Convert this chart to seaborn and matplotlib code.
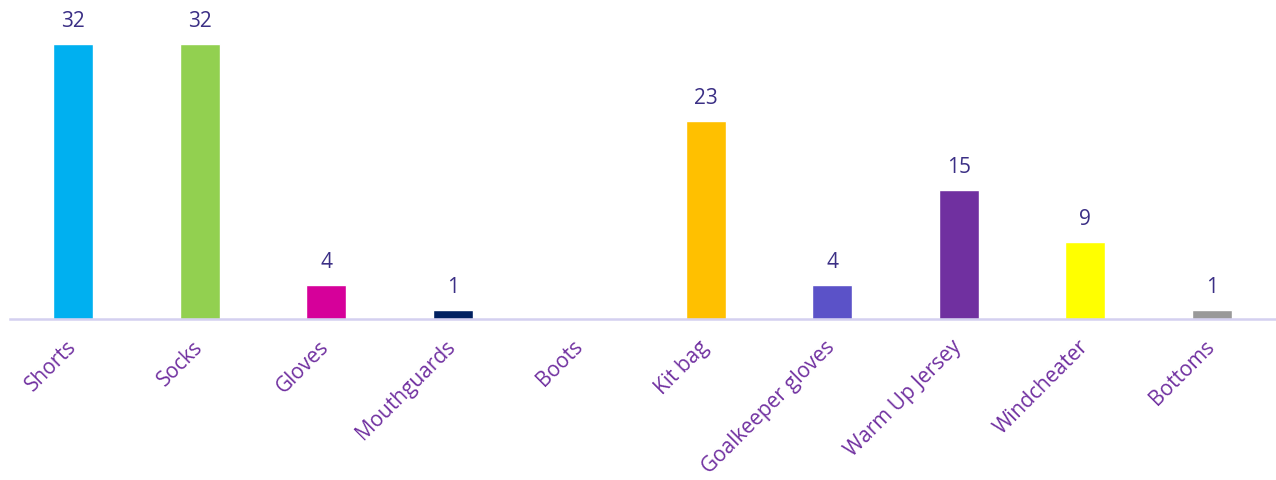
import matplotlib
matplotlib.use("Agg")
import matplotlib.pyplot as plt
import seaborn as sns
import pandas as pd

categories = ["Shorts", "Socks", "Gloves", "Mouthguards", "Boots", "Kit bag",
              "Goalkeeper gloves", "Warm Up Jersey", "Windcheater", "Bottoms"]
counts = [32, 32, 4, 1, 0, 23, 4, 15, 9, 1]
bar_colors = ["#00B0F0", "#92D050", "#D6009A", "#002060", "#A5A5A5", "#FFC000",
              "#5B52C8", "#7030A0", "#FFFF00", "#999999"]

sns.set_theme(style="white")
plt.rcParams["font.family"] = ["Open Sans", "DejaVu Sans"]

df = pd.DataFrame({"item": categories, "count": counts})

fig = plt.figure(figsize=(12.76, 4.8), dpi=100)
ax = fig.add_axes([10 / 1276, 161 / 480, 1265 / 1276, 319 / 480])

sns.barplot(data=df, x="item", y="count", hue="item", palette=bar_colors,
            width=0.32, legend=False, ax=ax, saturation=1)

for i, v in enumerate(counts):
    if v > 0:
        ax.text(i, v + 1.4, str(v), ha="center", va="bottom",
                fontsize=15, color="#3B2F85")

ax.set_ylim(0, 37.1)
ax.set_xlim(-0.5, len(categories) - 0.5)
ax.set_yticks([])
ax.set_xlabel("")
ax.set_ylabel("")
for side in ["top", "left", "right"]:
    ax.spines[side].set_visible(False)
ax.spines["bottom"].set_color("#D4D0F0")
ax.spines["bottom"].set_linewidth(1.8)

ax.tick_params(axis="x", length=0, pad=18)
for lbl in ax.get_xticklabels():
    lbl.set_rotation(45)
    lbl.set_ha("right")
    lbl.set_va("center")
    lbl.set_rotation_mode("anchor")
    lbl.set_color("#7030A0")
    lbl.set_fontsize(15)

fig.savefig("out.png", dpi=100, facecolor="white")
